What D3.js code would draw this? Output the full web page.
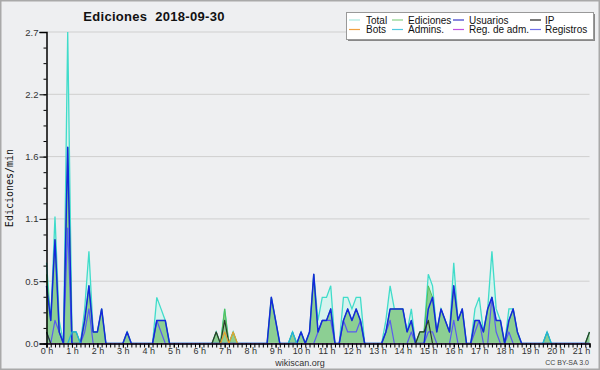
<!DOCTYPE html>
<html><head><meta charset="utf-8">
<script src="https://cdn.jsdelivr.net/npm/d3@7"></script>
<style>
html,body{margin:0;padding:0;background:#eeeff1;}
svg{display:block;}
</style></head>
<body>
<svg id="chart" width="600" height="370"></svg>
<script>
// 10-minute bins from 00:00 to 21:20, values in edits per minute
const hourLabels = ["0 h","1 h","2 h","3 h","4 h","5 h","6 h","7 h","8 h","9 h","10 h","11 h","12 h","13 h","14 h","15 h","16 h","17 h","18 h","19 h","20 h","21 h"];
const yTicks = [0, 0.54, 1.08, 1.62, 2.16, 2.7];
const legendNames = ["Total","Ediciones","Usuarios","IP","Bots","Admins.","Reg. de adm.","Registros"];
const legendColors = ["#a8e8e0","#88d088","#3a3ac8","#222222","#f0a040","#50c8e0","#c050e0","#7070e8"];

const total = [
 .7,.2,1.1,.2,0,2.7,  .1,.1,0,.3,.8,.1,  .1,.3,0,0,0,0,  0,.1,0,0,0,0,
 0,0,.4,.3,.2,0,  0,0,0,0,0,0,  0,0,0,0,.1,0,  .3,0,.1,0,0,0,
 0,0,0,0,0,.4,  .2,0,0,0,.1,0,  .1,0,.1,.6,.2,.4,  .4,.5,0,0,.4,.4,
 .3,.4,.4,0,0,0,  0,0,.2,.5,.3,.3,  .3,.1,.3,0,.1,.1,  .6,.5,.1,.3,.2,.1,
 .7,.2,.3,0,0,.3,  .4,.1,.3,.8,.3,.2,  0,.3,.3,.1,0,0,  0,0,0,0,.1,0,
 0,0,0,0,0,0,  0,0,.1];
const ediciones = [
 .6,.2,.9,.1,0,1.7,  .1,.1,0,.2,.5,.1,  .1,.3,0,0,0,0,  0,.1,0,0,0,0,
 0,0,.2,.2,.2,0,  0,0,0,0,0,0,  0,0,0,0,.1,0,  .3,0,.1,0,0,0,
 0,0,0,0,0,.4,  .2,0,0,0,.1,0,  .1,0,.1,.6,.1,.2,  .2,.3,0,0,.2,.3,
 .2,.3,.2,0,0,0,  0,0,.1,.3,.3,.3,  .3,.1,.2,0,.1,.1,  .5,.4,.1,.3,.2,.1,
 .5,.2,.3,0,0,.2,  .2,.1,.3,.4,.2,.2,  0,.2,.3,.1,0,0,  0,0,0,0,.1,0,
 0,0,0,0,0,0,  0,0,.1];
const usuarios = [
 .5,.2,.9,.1,0,1.7,  0,0,0,.2,.5,.1,  .1,.3,0,0,0,0,  0,.1,0,0,0,0,
 0,0,.2,.2,.2,0,  0,0,0,0,0,0,  0,0,0,0,0,0,  0,0,0,0,0,0,
 0,0,0,0,0,.4,  .2,0,0,0,0,0,  .1,0,.1,.6,.1,.2,  .2,.3,0,0,.2,.3,
 .2,.3,.2,0,0,0,  0,0,.1,.3,.3,.3,  .3,.1,.2,0,0,0,  .3,.4,.1,.3,.2,.1,
 .5,.2,.3,0,0,.2,  .2,.1,.3,.4,.2,.2,  0,.2,.3,.1,0,0,  0,0,0,0,0,0,
 0,0,0,0,0,0,  0,0,0];
const ip = [
 .1,0,0,0,0,0,  0,0,0,0,0,0,  0,0,0,0,0,0,  0,0,0,0,0,0,
 0,0,0,0,0,0,  0,0,0,0,0,0,  0,0,0,0,.1,0,  .2,0,0,0,0,0,
 0,0,0,0,0,0,  0,0,0,0,0,0,  0,0,0,0,0,0,  0,0,0,0,0,0,
 0,0,0,0,0,0,  0,0,0,0,0,0,  0,0,0,0,.1,.1,  .2,0,0,0,0,0,
 0,0,0,0,0,0,  0,0,0,0,0,0,  0,0,0,0,0,0,  0,0,0,0,0,0,
 0,0,0,0,0,0,  0,0,.1];
const bots = [
 0,0,0,0,0,0,  0,0,0,0,0,0,  0,0,0,0,0,0,  0,0,0,0,0,0,
 0,0,0,0,0,0,  0,0,0,0,0,0,  0,0,0,0,0,0,  .1,0,.1,0,0,0,
 0,0,0,0,0,0,  0,0,0,0,0,0,  0,0,0,0,0,0,  0,0,0,0,0,0,
 0,0,0,0,0,0,  0,0,0,0,0,0,  0,0,0,0,0,0,  0,0,0,0,0,0,
 0,0,0,0,0,0,  0,0,0,0,0,0,  0,0,0,0,0,0,  0,0,0,0,0,0,
 0,0,0,0,0,0,  0,0,0];
const admins = [
 0,0,0,0,0,0,  .1,.1,0,0,0,0,  0,0,0,0,0,0,  0,0,0,0,0,0,
 0,0,0,0,0,0,  0,0,0,0,0,0,  0,0,0,0,0,0,  0,0,0,0,0,0,
 0,0,0,0,0,0,  0,0,0,0,.1,0,  0,0,0,0,0,0,  0,0,0,0,0,0,
 0,0,0,0,0,0,  0,0,0,0,0,0,  0,0,0,0,0,0,  0,0,0,0,0,0,
 0,0,0,0,0,0,  0,0,0,0,0,0,  0,0,0,0,0,0,  0,0,0,0,.1,0,
 0,0,0,0,0,0,  0,0,0];
const regAdm = [
 0,0,0,0,0,0,  0,0,0,0,0,0,  0,0,0,0,0,0,  0,0,0,0,0,0,
 0,0,0,0,0,0,  0,0,0,0,0,0,  0,0,0,0,0,0,  0,0,0,0,0,0,
 0,0,0,0,0,0,  0,0,0,0,0,0,  0,0,0,0,0,0,  0,0,0,0,0,0,
 0,0,0,0,0,0,  0,0,0,0,0,0,  0,0,0,0,0,0,  0,0,0,0,0,0,
 0,0,0,0,0,0,  0,0,0,0,0,0,  0,0,0,0,0,0,  0,0,0,0,0,0,
 0,0,0,0,0,0,  0,0,0];
const registros = [
 .1,0,.2,.1,0,1.0,  0,0,0,.1,.3,0,  0,0,0,0,0,0,  0,0,0,0,0,0,
 0,0,.2,.1,0,0,  0,0,0,0,0,0,  0,0,0,0,0,0,  0,0,0,0,0,0,
 0,0,0,0,0,0,  0,0,0,0,0,0,  0,0,0,0,.1,.2,  .2,.2,0,0,.2,.1,
 .1,.1,.2,0,0,0,  0,0,.1,.2,0,0,  0,0,.1,0,0,0,  .1,.1,0,0,0,0,
 .2,0,0,0,0,.1,  .2,0,0,.4,.1,0,  0,.1,0,0,0,0,  0,0,0,0,0,0,
 0,0,0,0,0,0,  0,0,0];

const svg = d3.select("#chart");
const W = 600, H = 370;
const x0 = 46.5, x1 = 589.5, yTop = 32, yBot = 343.5;
const n = total.length;
const x = d3.scaleLinear().domain([0, n - 1]).range([x0, x1]);
const y = d3.scaleLinear().domain([0, 2.7]).range([yBot, yTop]);
const FONT = "Liberation Sans, Arial, sans-serif";

// background + frame
svg.append("rect").attr("x",0.75).attr("y",0.75).attr("width",W-1.5).attr("height",H-1.5)
  .attr("fill","#eeeff1").attr("stroke","#a9a9a9").attr("stroke-width",1.5);

// grid
svg.append("g").selectAll("line").data(yTicks.slice(1)).join("line")
  .attr("x1",x0).attr("x2",x1).attr("y1",d=>y(d)).attr("y2",d=>y(d))
  .attr("stroke","#cfcfcf").attr("stroke-width",1);

const idx = d3.range(n);
const area = arr => d3.area().x(i=>x(i)).y0(yBot).y1(i=>y(arr[i]));
const line = arr => d3.line().x(i=>x(i)).y(i=>y(arr[i]));

svg.append("path").attr("d", area(total)(idx)).attr("fill","#d6f3ee");
svg.append("path").attr("d", line(total)(idx)).attr("fill","none").attr("stroke","#40dcca").attr("stroke-width",1.3);
svg.append("path").attr("d", area(ediciones)(idx)).attr("fill","#6cbf6c").attr("fill-opacity",0.7);

const lines = [
  [registros, "#5a5af0", 1.2],
  [ediciones, "#55c055", 1],
  [usuarios, "#1428dc", 1.5],
  [ip, "#2a3a2a", 1.2],
  [bots, "#e8a030", 1.2],
  [admins, "#20b0e0", 1.2],
  [regAdm, "#c050e0", 1]
];
lines.forEach(([arr,c,w]) => {
  svg.append("path").attr("d", line(arr)(idx)).attr("fill","none").attr("stroke",c).attr("stroke-width",w).attr("stroke-linejoin","round");
});

// axes
const yAxis = d3.axisLeft(y).tickValues(yTicks).tickFormat(d3.format(".1f")).tickSize(7).tickPadding(1);
const gy = svg.append("g").attr("transform",`translate(${x0},0)`).call(yAxis);
const yMinor = d3.range(0, 2.7001, 0.135);
svg.append("g").attr("transform",`translate(${x0},0)`).call(d3.axisLeft(y).tickValues(yMinor).tickSize(3).tickFormat(""))
  .call(g=>g.select(".domain").remove());
gy.select(".domain").attr("stroke","#000").attr("stroke-width",1.5);
gy.selectAll("text").attr("font-family",FONT).attr("font-size",9.5).attr("fill","#333");

const hourTicks = d3.range(0, 22).map(h => h * 6);
const xAxis = d3.axisBottom(x).tickValues(hourTicks).tickFormat((d,i)=>hourLabels[i]).tickSize(4).tickPadding(0);
const gx = svg.append("g").attr("transform",`translate(0,${yBot})`).call(xAxis);
svg.append("g").attr("transform",`translate(0,${yBot})`).call(d3.axisBottom(x).tickValues(idx).tickSize(4).tickFormat(""))
  .call(g=>g.select(".domain").remove());
gx.select(".domain").attr("stroke","#000").attr("stroke-width",1.5);
gx.selectAll("text").attr("font-family",FONT).attr("font-size",9).attr("fill","#333");
svg.selectAll(".tick line").attr("stroke","#000");

// y label
svg.append("text").attr("transform","translate(13,188) rotate(-90)").attr("text-anchor","middle")
  .attr("font-family","DejaVu Sans Mono, monospace").attr("font-size",10).attr("fill","#111").text("Ediciones/min");

// title
svg.append("text").attr("x",154).attr("y",21).attr("text-anchor","middle")
  .attr("xml:space","preserve").style("white-space","pre")
  .attr("font-family",FONT).attr("font-weight","bold").attr("font-size",13).attr("letter-spacing",0.3)
  .attr("fill","#111").text("Ediciones  2018-09-30");

// footer
svg.append("text").attr("x",300).attr("y",365.5).attr("text-anchor","middle")
  .attr("font-family",FONT).attr("font-size",9).attr("fill","#333").text("wikiscan.org");
svg.append("text").attr("x",589).attr("y",365).attr("text-anchor","end")
  .attr("font-family",FONT).attr("font-size",7).attr("fill","#444").text("CC BY-SA 3.0");

// legend
const lg = svg.append("g");
lg.append("rect").attr("x",348).attr("y",14).attr("width",247).attr("height",27)
  .attr("fill","#888");
lg.append("rect").attr("x",346.5).attr("y",12.5).attr("width",247).attr("height",27)
  .attr("fill","#fff").attr("stroke","#999").attr("stroke-width",1);
const colX = [349, 392, 453, 530];
const textX = [366, 408, 469, 545];
legendNames.forEach((name,k) => {
  const col = k % 4, row = Math.floor(k/4);
  const yy = 20 + row*9.5;
  lg.append("line").attr("x1",colX[col]).attr("x2",colX[col]+11).attr("y1",yy).attr("y2",yy)
    .attr("stroke",legendColors[k]).attr("stroke-width",1.2);
  lg.append("text").attr("x",textX[col]).attr("y",yy+3.5)
    .attr("font-family",FONT).attr("font-size",10).attr("fill","#111").text(name);
});
</script>
</body></html>
